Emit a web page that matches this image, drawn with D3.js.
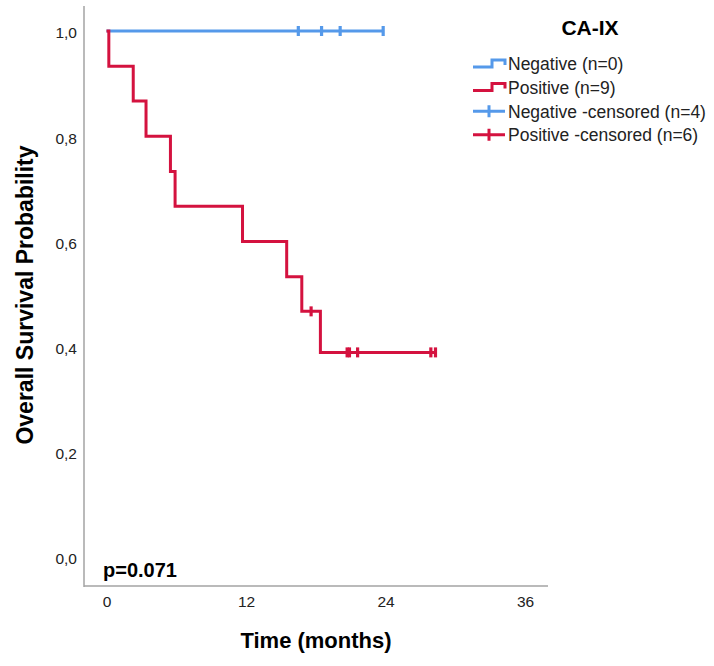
<!DOCTYPE html>
<html>
<head>
<meta charset="utf-8">
<script src="https://cdn.jsdelivr.net/npm/d3@7"></script>
<style>
  body { margin: 0; background: #fff; }
  text { font-family: "Liberation Sans", Arial, sans-serif; }
</style>
</head>
<body>
<div id="chart-area"></div>
<script>
// Kaplan-Meier curves (time in months, survival probability)
const posStepTimes = [0, 0.2, 2.3, 3.4, 5.5, 5.9, 11.7, 15.5, 16.8, 18.4, 28.3]
const posStepSurv = [1, 0.933, 0.867, 0.8, 0.733, 0.667, 0.6, 0.533, 0.467, 0.389, 0.389]
const posCensorTimes = [17.6, 20.7, 20.9, 21.6, 27.9, 28.3]
const posCensorSurv = [0.467, 0.389, 0.389, 0.389, 0.389, 0.389]

const negStepTimes = [0, 23.8]
const negStepSurv = [1, 1]
const negCensorTimes = [16.5, 18.5, 20.1, 23.8]
const negCensorSurv = [1, 1, 1, 1]

const xTicks = [0, 12, 24, 36]
const yTicks = [0, 0.2, 0.4, 0.6, 0.8, 1.0]
const legendLabels = ["Negative (n=0)", "Positive (n=9)", "Negative -censored (n=4)", "Positive -censored (n=6)"]

const blue = "#5599ea"
const red = "#d4123f"
const axisGrey = "#a3a3a3"

const svg = d3.select("#chart-area").append("svg")
	.attr("width", 714)
	.attr("height", 666)

const x = d3.scaleLinear().domain([0, 36]).range([106.5, 525])
const y = d3.scaleLinear().domain([0, 1]).range([557, 31])

// axis lines (SPSS frame: left + bottom only)
svg.append("line").attr("x1", 84).attr("x2", 84).attr("y1", 6).attr("y2", 587)
	.attr("stroke", axisGrey).attr("stroke-width", 1.5)
svg.append("line").attr("x1", 84).attr("x2", 548).attr("y1", 586).attr("y2", 586)
	.attr("stroke", axisGrey).attr("stroke-width", 1.5)

const yAxis = svg.append("g")
	.attr("transform", "translate(84,0)")
	.call(d3.axisLeft(y).tickValues(yTicks).tickSize(0).tickPadding(7)
		.tickFormat(d => d3.format(".1f")(d).replace(".", ",")))
yAxis.select(".domain").remove()
yAxis.selectAll("text").attr("dy", "0.45em")
	.style("font-size", "15.5px").attr("fill", "#222")

const xAxis = svg.append("g")
	.attr("transform", "translate(0,586)")
	.call(d3.axisBottom(x).tickValues(xTicks).tickSize(0).tickPadding(10))
xAxis.select(".domain").remove()
xAxis.selectAll("text").style("font-size", "15.5px").attr("fill", "#222")

// axis titles
svg.append("text")
	.attr("transform", "translate(33,295) rotate(-90)")
	.attr("text-anchor", "middle")
	.style("font-size", "23px").style("font-weight", "bold")
	.text("Overall Survival Probability")

svg.append("text")
	.attr("x", 316).attr("y", 648)
	.attr("text-anchor", "middle")
	.style("font-size", "22px").style("font-weight", "bold")
	.text("Time (months)")

svg.append("text")
	.attr("x", 103).attr("y", 577)
	.style("font-size", "20px").style("font-weight", "bold")
	.text("p=0.071")

// curves
const line = d3.line()
	.x(d => x(d[0]))
	.y(d => y(d[1]))
	.curve(d3.curveStepAfter)

const groups = [
	{ times: negStepTimes, surv: negStepSurv, cTimes: negCensorTimes, cSurv: negCensorSurv, color: blue },
	{ times: posStepTimes, surv: posStepSurv, cTimes: posCensorTimes, cSurv: posCensorSurv, color: red }
]

groups.forEach(g => {
	svg.append("path")
		.datum(d3.zip(g.times, g.surv))
		.attr("d", line)
		.attr("fill", "none")
		.attr("stroke", g.color)
		.attr("stroke-width", 3)
		.attr("stroke-linejoin", "miter")

	svg.selectAll(null)
		.data(d3.zip(g.cTimes, g.cSurv))
		.enter().append("line")
		.attr("x1", d => x(d[0])).attr("x2", d => x(d[0]))
		.attr("y1", d => y(d[1]) - 5).attr("y2", d => y(d[1]) + 5)
		.attr("stroke", g.color)
		.attr("stroke-width", 3.2)
})

// legend
svg.append("text")
	.attr("x", 590).attr("y", 35)
	.attr("text-anchor", "middle")
	.style("font-size", "21px").style("font-weight", "bold")
	.text("CA-IX")

const legendColors = [blue, red, blue, red]
const legend = svg.selectAll(".legend-item")
	.data(legendLabels)
	.enter().append("g")
	.attr("class", "legend-item")
	.attr("transform", (d, i) => `translate(473,${64 + i * 23.6})`)

legend.each(function (d, i) {
	const g = d3.select(this)
	if (i < 2) {
		g.append("path")
			.attr("d", "M0,3 H19 V-4 H32 V1")
			.attr("fill", "none")
			.attr("stroke", legendColors[i])
			.attr("stroke-width", 3)
	} else {
		g.append("path")
			.attr("d", "M0,0 H32 M16,-6 V6")
			.attr("fill", "none")
			.attr("stroke", legendColors[i])
			.attr("stroke-width", 3)
	}
	g.append("text")
		.attr("x", 35).attr("y", 0).attr("dy", "0.36em")
		.style("font-size", "17.5px").attr("fill", "#222")
		.text(d)
})
</script>
</body>
</html>
